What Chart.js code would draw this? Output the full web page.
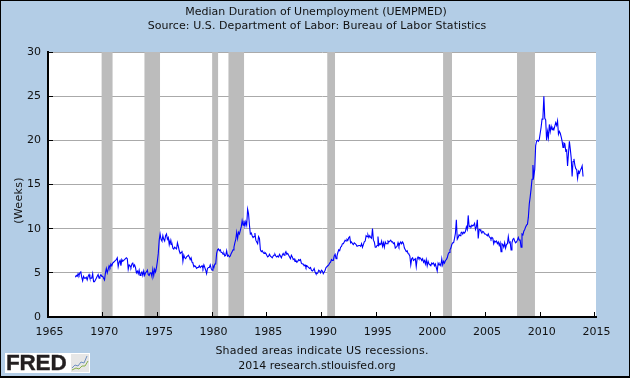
<!DOCTYPE html>
<html>
<head>
<meta charset="utf-8">
<title>Median Duration of Unemployment</title>
<script src="https://cdn.jsdelivr.net/npm/chart.js@4/dist/chart.umd.js"></script>
<style>
  html, body { margin: 0; padding: 0; }
  #frame { position: relative; width: 630px; height: 378px; background: #b3cde6; overflow: hidden; }
  #frame:after { content: ''; position: absolute; inset: 0; border: 1px solid #000; border-bottom-width: 2px; pointer-events: none; }
  canvas { position: absolute; left: 0; top: 0; }
  .cap { position: absolute; left: 0; width: 630px; text-align: center; font: 11px "DejaVu Sans", sans-serif; color: #111; white-space: nowrap; }
  #weeks { position: absolute; left: -12px; top: 194px; width: 60px; text-align: center; transform: rotate(-90deg); font: 11px "DejaVu Sans", sans-serif; letter-spacing: 0.3px; color: #111; }
  #logo { position: absolute; left: 5px; top: 353px; width: 85px; height: 20px; background: #fff; overflow: hidden; }
  #logo span { position: absolute; left: 1px; top: -3px; font: bold 22.5px/26px "Liberation Sans", sans-serif; color: #231f20; letter-spacing: -0.2px; -webkit-text-stroke: 0.4px #231f20; }
  #logo svg { position: absolute; left: 66px; top: 1px; }
</style>
</head>
<body>
<div id="frame">
  <canvas id="chart" width="630" height="378"></canvas>
  <div class="cap" style="top:5px;left:1px">Median Duration of Unemployment (UEMPMED)</div>
  <div class="cap" style="top:19px;left:2px;letter-spacing:0.07px">Source: U.S. Department of Labor: Bureau of Labor Statistics</div>
  <div class="cap" style="top:344px;left:7px;letter-spacing:0.2px">Shaded areas indicate US recessions.</div>
  <div class="cap" style="top:359px;left:2px">2014 research.stlouisfed.org</div>
  <div id="weeks">(Weeks)</div>
  <div id="logo">
    <span>FRED</span>
    <svg width="18" height="18" viewBox="0 0 18 18">
      <rect width="18" height="18" fill="#e6e6e6"/>
      <polyline points="1,14 4,11 7,12 10,8 13,9 16,2" fill="none" stroke="#6f8fc0" stroke-width="1"/>
      <polyline points="1,16 5,14 8,15 11,12 14,12 17,7" fill="none" stroke="#8ab04a" stroke-width="1"/>
    </svg>
  </div>
</div>
<script>
const firstMonth = 1967.5;
const yTicks = [0, 5, 10, 15, 20, 25, 30];

const recessionStart = [1969.88, 1973.8, 1980.0, 1981.48, 1990.52, 2001.12, 2007.88];
const recessionEnd = [1970.92, 1975.25, 1980.57, 1982.94, 1991.25, 2001.94, 2009.52];

// monthly median weeks, one row per year
const weeks = [
  4.5, 4.7, 4.6, 4.9, 4.7, 5.0, // 1967 Jul-Dec
  5.1, 4.5, 4.1, 4.6, 4.4, 4.4, 4.5, 4.2, 4.6, 4.8, 4.4, 4.4,
  4.4, 4.9, 4.0, 4.0, 4.2, 4.4, 4.6, 4.8, 4.4, 4.6, 4.8, 4.6,
  4.6, 4.4, 4.2, 5.0, 5.5, 5.0, 5.4, 5.8, 5.6, 6.0, 5.8, 6.1, // 1970
  6.2, 6.3, 6.4, 6.5, 6.7, 5.7, 6.2, 6.4, 5.8, 6.5, 6.3, 6.4,
  6.5, 6.6, 6.7, 6.6, 5.4, 5.9, 5.8, 5.6, 6.0, 6.1, 5.7, 5.9,
  5.6, 5.0, 5.2, 4.9, 5.3, 4.7, 4.9, 5.1, 4.7, 5.2, 4.7, 5.0,
  5.1, 5.3, 4.8, 4.7, 5.0, 5.0, 4.6, 5.4, 4.7, 5.4, 5.1, 5.6,
  6.3, 7.2, 8.7, 9.4, 8.8, 8.6, 9.2, 8.8, 8.6, 9.2, 9.4, 8.8, // 1975
  9.0, 8.2, 8.7, 8.2, 8.3, 7.8, 7.7, 7.9, 7.8, 7.7, 8.4, 8.0,
  7.5, 7.2, 7.3, 7.5, 6.3, 7.0, 6.7, 6.6, 6.8, 6.9, 7.0, 6.8,
  6.5, 6.7, 6.2, 6.1, 5.7, 5.8, 5.7, 5.5, 5.6, 5.6, 5.8, 5.6,
  5.7, 5.8, 5.5, 5.9, 5.6, 5.3, 4.9, 5.5, 5.6, 5.6, 5.9, 5.5,
  5.3, 5.8, 5.6, 6.0, 6.0, 7.2, 7.6, 7.7, 7.5, 7.6, 7.3, 7.3, // 1980
  7.1, 7.2, 6.9, 7.0, 7.5, 6.9, 7.0, 6.8, 6.9, 7.2, 7.4, 7.6,
  7.9, 8.4, 8.8, 9.6, 8.9, 9.6, 9.4, 9.8, 10.2, 10.9, 10.4, 10.9,
  10.3, 10.8, 10.4, 12.2, 11.7, 10.4, 9.4, 9.5, 9.2, 9.0, 9.1, 9.5,
  8.7, 8.5, 8.3, 9.1, 8.9, 7.6, 7.4, 7.5, 7.3, 7.2, 7.3, 7.2,
  7.0, 6.8, 6.9, 7.1, 6.9, 6.8, 6.7, 6.9, 7.0, 7.1, 6.9, 6.8, // 1985
  6.9, 6.8, 7.1, 6.9, 6.7, 7.0, 7.2, 7.0, 7.2, 7.4, 7.1, 7.2,
  7.0, 6.8, 6.6, 7.0, 6.8, 6.5, 6.6, 6.3, 6.4, 6.2, 6.3, 6.5,
  6.4, 6.5, 6.1, 6.0, 6.0, 5.8, 5.9, 5.6, 5.8, 5.7, 5.6, 5.5,
  5.6, 5.3, 5.2, 5.3, 5.5, 5.1, 4.9, 4.9, 5.0, 5.3, 5.2, 5.0,
  5.3, 5.2, 4.9, 5.1, 5.3, 5.6, 5.6, 5.8, 5.9, 6.1, 6.2, 6.5, // 1990
  6.4, 6.4, 6.9, 7.1, 6.6, 6.9, 7.3, 7.6, 7.5, 7.9, 8.0, 8.3,
  8.3, 8.5, 8.7, 8.6, 8.8, 8.7, 9.0, 9.1, 8.4, 8.5, 8.3, 8.2,
  8.4, 8.3, 8.2, 8.0, 8.0, 8.1, 8.1, 8.0, 8.3, 7.9, 8.2, 8.5,
  8.6, 9.2, 9.1, 9.3, 9.0, 9.2, 9.0, 8.9, 10.0, 8.7, 8.5, 7.9,
  7.9, 8.1, 9.1, 8.1, 8.3, 8.2, 8.6, 8.0, 8.4, 7.9, 8.5, 8.3, // 1995
  8.3, 8.6, 8.5, 8.6, 8.7, 8.5, 8.5, 8.3, 8.4, 7.8, 7.9, 8.0,
  8.4, 8.0, 8.3, 8.5, 8.3, 8.5, 8.3, 7.8, 7.6, 7.4, 7.5, 7.2,
  7.1, 6.9, 5.9, 6.6, 6.7, 6.4, 6.5, 6.6, 5.7, 6.6, 6.8, 6.6,
  6.7, 6.6, 6.4, 6.6, 6.2, 6.4, 6.0, 6.5, 5.8, 6.3, 6.0, 5.9,
  5.8, 6.1, 6.0, 6.1, 5.8, 6.0, 5.6, 5.2, 6.1, 5.9, 6.0, 5.8, // 2000
  6.6, 5.9, 6.3, 6.1, 6.4, 6.5, 6.7, 7.1, 7.3, 7.6, 7.8, 8.2,
  8.4, 8.4, 8.9, 9.5, 11.0, 8.8, 9.0, 9.3, 9.2, 9.5, 9.6, 9.4,
  9.6, 9.5, 9.7, 10.2, 9.9, 11.5, 10.2, 10.3, 10.2, 10.4, 10.3, 10.4,
  10.6, 9.9, 10.2, 11.0, 8.9, 9.9, 9.9, 9.7, 9.5, 9.7, 9.6, 9.4,
  9.4, 9.3, 9.2, 9.4, 9.1, 9.0, 8.8, 9.0, 8.9, 8.3, 8.6, 8.5, // 2005
  8.6, 8.3, 8.5, 8.1, 8.4, 7.4, 8.3, 8.2, 7.9, 8.4, 7.8, 8.2,
  8.3, 9.1, 8.4, 8.5, 7.6, 8.4, 8.8, 8.9, 8.6, 8.4, 8.5, 8.7,
  9.0, 8.7, 8.7, 7.9, 9.4, 9.3, 9.7, 9.9, 10.2, 10.4, 10.5, 11.3,
  12.8, 13.6, 14.5, 15.6, 17.2, 16.0, 16.7, 19.4, 19.9, 20.0, 19.9, 20.1,
  20.8, 21.5, 22.4, 22.6, 25.0, 22.5, 22.3, 20.0, 21.0, 20.3, 21.8, 21.0, // 2010
  21.6, 21.2, 21.4, 21.2, 21.6, 22.0, 21.7, 22.2, 20.7, 21.0, 20.8, 20.4,
  19.9, 19.2, 19.7, 19.6, 18.8, 18.9, 17.1, 18.5, 19.9, 19.0, 18.0, 15.9,
  17.6, 17.9, 17.2, 16.8, 16.7, 15.7, 16.5, 16.3, 16.6, 16.8, 17.1, 15.9
];

const seriesPoints = weeks.map((w, i) => ({ x: firstMonth + i / 12, y: w }));

// each recession is a filled two point line so it goes through the scales
const recessionSets = recessionStart.map((start, i) => ({
  type: 'line',
  data: [{ x: start, y: 30 }, { x: recessionEnd[i], y: 30 }],
  borderWidth: 0,
  pointRadius: 0,
  backgroundColor: '#bcbcbc',
  fill: 'origin',
  order: 2
}));

const tickFont = { family: '"DejaVu Sans", sans-serif', size: 11 };

// plot area is white, the rest of the page stays blue
const whitePlot = {
  id: 'whitePlot',
  beforeDraw(chart) {
    const a = chart.chartArea;
    chart.ctx.fillStyle = '#fff';
    chart.ctx.fillRect(a.left, a.top, a.width, a.height);
  }
};

new Chart(document.getElementById('chart').getContext('2d'), {
  type: 'line',
  plugins: [whitePlot],
  data: {
    datasets: [
      {
        label: 'UEMPMED',
        data: seriesPoints,
        borderColor: '#0000ff',
        borderWidth: 1.1,
        pointRadius: 0,
        tension: 0,
        fill: false,
        order: 1
      },
      ...recessionSets
    ]
  },
  options: {
    responsive: false,
    animation: false,
    parsing: false,
    layout: { padding: { top: 52, right: 34, left: 0, bottom: 0 } },
    plugins: { legend: { display: false }, tooltip: { enabled: false } },
    scales: {
      x: {
        type: 'linear',
        min: 1965,
        max: 2015.1,
        afterFit: s => { s.height = 61; },
        grid: { color: 'transparent', tickColor: '#000', tickLength: -5, z: 1 },
        border: { color: '#000', width: 2, z: 2 },
        ticks: {
          stepSize: 5,
          includeBounds: false,
          autoSkip: false,
          maxRotation: 0,
          padding: 14,
          labelOffset: 1.5,
          color: '#111',
          font: tickFont,
          callback: v => String(v)
        }
      },
      y: {
        min: 0,
        max: 30,
        afterFit: s => { s.width = 48; },
        afterBuildTicks: s => { s.ticks = yTicks.map(v => ({ value: v })); },
        grid: { color: '#aaaaaa', tickColor: '#000', tickLength: -5, lineWidth: 1 },
        border: { color: '#000', width: 2, z: 2 },
        ticks: {
          padding: 12,
          color: '#111',
          font: tickFont,
          callback: v => String(v)
        }
      }
    }
  }
});
</script>
</body>
</html>
